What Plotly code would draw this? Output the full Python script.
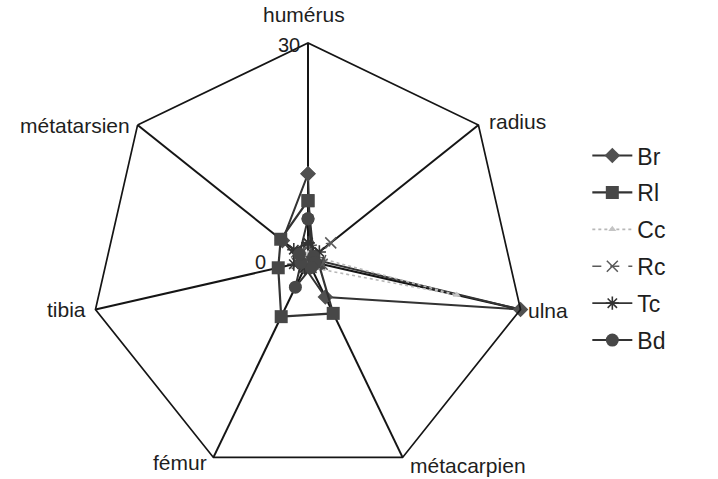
import numpy as np
import plotly.graph_objects as go

# Bone axes, clockwise from the top
bones = ["humérus", "radius", "ulna", "métacarpien", "fémur", "tibia", "métatarsien"]

# One value per bone for each series
br = [12.0, 0.5, 30.0, 5.5, 1.0, 1.0, 4.5]
rl = [8.3, 1.0, 1.5, 8.0, 8.5, 4.2, 4.8]
cc = [1.0, 1.0, 21.0, 1.0, 0.5, 0.5, 1.0]
rc = [2.0, 4.0, 2.0, 1.0, 1.0, 1.5, 2.0]
tc = [2.5, 2.0, 1.0, 1.0, 1.0, 2.0, 2.5]
bd = [5.8, 1.0, 1.0, 1.0, 4.0, 1.0, 1.5]

radial_ticks = [0, 30]

W, H = 718, 479
dark = "#333333"
txt = "#1e1e1e"
label_font = dict(family="Liberation Sans, Arial, sans-serif", size=21, color=txt)

# polar area: square domain, radius in pixels
R = 218
cx, cy = 308, 261          # centre, pixels from top-left
dom_x = [(cx - R) / W, (cx + R) / W]
dom_y = [(H - cy - R) / H, (H - cy + R) / H]
dom_y[0] = max(dom_y[0], 0.0)


def closed(vals):
    return vals + vals[:1]


theta = closed(bones)

series = [
    ("Br", br, dict(color=dark, width=2), dict(symbol="diamond", size=12, color="#505050")),
    ("Rl", rl, dict(color=dark, width=2.2), dict(symbol="square", size=13, color="#474747")),
    ("Cc", cc, dict(color="#b8b8b8", width=1.6, dash="dot"), dict(symbol="triangle-up", size=7, color="#c4c4c4")),
    ("Rc", rc, dict(color="#5a5a5a", width=1.4, dash="dash"),
     dict(symbol="x-thin", size=11, color="#5a5a5a", line=dict(width=1.5, color="#5a5a5a"))),
    ("Tc", tc, dict(color=dark, width=1.8),
     dict(symbol="asterisk", size=11, color=dark, line=dict(width=1.6, color=dark))),
    ("Bd", bd, dict(color=dark, width=2), dict(symbol="circle", size=13, color="#474747")),
]

fig = go.Figure()
for name, vals, line, marker in series:
    fig.add_trace(go.Scatterpolar(
        r=closed(vals), theta=theta, name=name, mode="lines+markers",
        line=line, marker=marker, legendgroup=name,
    ))


def to_paper(px, py):
    return px / W, 1 - py / H


# category labels placed next to each outer vertex
label_place = {
    "humérus": ("center", "bottom", -4, -15),
    "radius": ("left", "middle", 9, -4),
    "ulna": ("left", "middle", 5, 1),
    "métacarpien": ("left", "middle", 5, 8),
    "fémur": ("right", "middle", -4, 5),
    "tibia": ("right", "middle", -7, 0),
    "métatarsien": ("right", "middle", -6, 0),
}
annotations = []
for i, b in enumerate(bones):
    ang = np.deg2rad(90 - i * 360 / len(bones))
    vx, vy = cx + R * np.cos(ang), cy - R * np.sin(ang)
    xa, ya, dx, dy = label_place[b]
    x, y = to_paper(vx + dx, vy + dy)
    annotations.append(dict(x=x, y=y, xref="paper", yref="paper", text=b,
                            showarrow=False, xanchor=xa, yanchor=ya, font=label_font))

# radial scale labels beside the top spoke
tick_offsets = {0: (-40, 1), 30: (-6, 2)}
for v in radial_ticks:
    dx, dy = tick_offsets[v]
    px = cx + dx
    py = cy - R * v / radial_ticks[-1] + dy
    x, y = to_paper(px, py)
    annotations.append(dict(x=x, y=y, xref="paper", yref="paper", text=str(v),
                            showarrow=False, xanchor="right", yanchor="middle",
                            font=dict(label_font, size=20)))

fig.update_layout(
    width=W, height=H,
    margin=dict(l=0, r=0, t=0, b=0),
    paper_bgcolor="white",
    font=dict(family="Liberation Sans, Arial, sans-serif", color=txt),
    annotations=annotations,
    polar=dict(
        domain=dict(x=dom_x, y=dom_y),
        bgcolor="white",
        gridshape="linear",
        angularaxis=dict(
            rotation=90, direction="clockwise",
            showline=True, linecolor="#151515", linewidth=1.7,
            showgrid=True, gridcolor="#151515", gridwidth=1.7,
            ticks="", showticklabels=False,
        ),
        radialaxis=dict(
            range=[0, 30], tickvals=radial_ticks,
            showgrid=False, showline=False, ticks="", showticklabels=False,
        ),
    ),
    legend=dict(
        x=0.818, y=0.72, xanchor="left", yanchor="top",
        font=dict(family="Liberation Sans, Arial, sans-serif", size=23, color=txt),
        tracegroupgap=4, itemwidth=40,
        bgcolor="rgba(0,0,0,0)",
    ),
)

fig.write_html("out.html")
